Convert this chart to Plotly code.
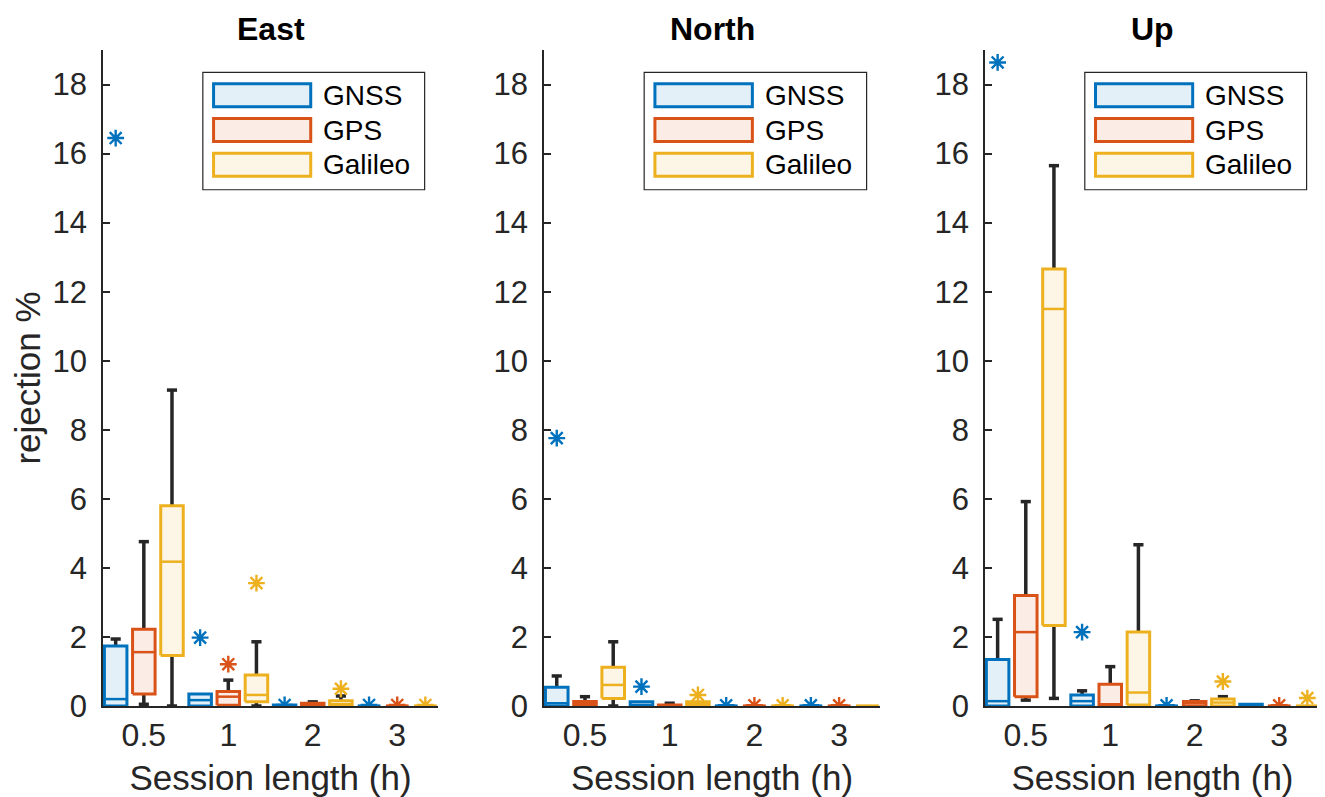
import plotly.graph_objects as go

# ---------------- data ----------------
categories = ["0.5", "1", "2", "3"]
series_names = ["GNSS", "GPS", "Galileo"]
panel_titles = ["East", "North", "Up"]
y_tick_values = [0, 2, 4, 6, 8, 10, 12, 14, 16, 18]

# each list: [GNSS per category], [GPS per category], [Galileo per category]
east_q1 = [[0.0, 0.0, 0.0, 0.0], [0.35, 0.02, 0.0, 0.0], [1.46, 0.12, 0.0, 0.0]]
east_median = [[0.2, 0.17, 0.0, 0.0], [1.56, 0.27, 0.03, 0.0], [4.18, 0.32, 0.05, 0.0]]
east_q3 = [[1.74, 0.35, 0.03, 0.02], [2.22, 0.42, 0.08, 0.0], [5.80, 0.90, 0.15, 0.0]]
east_lower = [[0.0, 0.0, 0.0, 0.0], [0.05, 0.0, 0.0, 0.0], [0.0, 0.0, 0.0, 0.0]]
east_upper = [[1.94, 0.35, 0.03, 0.02], [4.76, 0.75, 0.12, 0.0], [9.15, 1.86, 0.29, 0.0]]
east_outliers = [[[16.45], [1.98], [0.03], [0.03]],
                 [[], [1.21], [], [0.03]],
                 [[], [3.56], [0.50], [0.03]]]

north_q1 = [[0.0, 0.0, 0.0, 0.0], [0.0, 0.0, 0.0, 0.0], [0.22, 0.0, 0.0, 0.0]]
north_median = [[0.08, 0.03, 0.0, 0.0], [0.05, 0.0, 0.0, 0.0], [0.61, 0.05, 0.0, 0.0]]
north_q3 = [[0.54, 0.12, 0.02, 0.02], [0.13, 0.03, 0.0, 0.0], [1.12, 0.12, 0.0, 0.0]]
north_lower = [[0.0, 0.0, 0.0, 0.0], [0.0, 0.0, 0.0, 0.0], [0.0, 0.0, 0.0, 0.0]]
north_upper = [[0.87, 0.12, 0.02, 0.02], [0.27, 0.08, 0.0, 0.0], [1.86, 0.12, 0.0, 0.0]]
north_outliers = [[[7.76], [0.56], [0.02], [0.02]],
                  [[], [], [0.02], [0.02]],
                  [[], [0.32], [0.02], []]]

up_q1 = [[0.0, 0.0, 0.0, 0.0], [0.27, 0.0, 0.0, 0.0], [2.33, 0.03, 0.0, 0.0]]
up_median = [[0.14, 0.14, 0.0, 0.02], [2.14, 0.05, 0.08, 0.0], [11.50, 0.39, 0.10, 0.0]]
up_q3 = [[1.35, 0.32, 0.02, 0.05], [3.20, 0.63, 0.13, 0.0], [12.66, 2.14, 0.20, 0.0]]
up_lower = [[0.0, 0.0, 0.0, 0.0], [0.17, 0.0, 0.0, 0.0], [0.22, 0.0, 0.0, 0.0]]
up_upper = [[2.51, 0.44, 0.02, 0.05], [5.92, 1.14, 0.15, 0.0], [15.65, 4.67, 0.27, 0.0]]
up_outliers = [[[18.64], [2.14], [0.02], []],
               [[], [], [], [0.02]],
               [[], [], [0.71], [0.23]]]

# ---------------- style ----------------
colors = ["#0072BD", "#D95319", "#EDB120"]
fills = ["rgba(0,114,189,0.11)", "rgba(217,83,25,0.11)", "rgba(237,177,32,0.11)"]
axis_color = "#262626"
FONT = "Liberation Sans, Arial, Helvetica, sans-serif"
BOX_W = 0.8
CAP_W = 0.36

panels = [
    (east_q1, east_median, east_q3, east_lower, east_upper, east_outliers),
    (north_q1, north_median, north_q3, north_lower, north_upper, north_outliers),
    (up_q1, up_median, up_q3, up_lower, up_upper, up_outliers),
]

fig = go.Figure()
n_series = len(series_names)

for p, (q1s, meds, q3s, los, his, outs) in enumerate(panels):
    xa = "x" if p == 0 else f"x{p+1}"
    ya = "y" if p == 0 else f"y{p+1}"
    # whiskers (black) drawn first
    wx, wy = [], []
    for s in range(n_series):
        for c in range(len(categories)):
            pos = c * n_series + s + 1
            if his[s][c] > q3s[s][c]:
                wx += [pos, pos, None, pos - CAP_W / 2, pos + CAP_W / 2, None]
                wy += [q3s[s][c], his[s][c], None, his[s][c], his[s][c], None]
            if los[s][c] < q1s[s][c]:
                wx += [pos, pos, None, pos - CAP_W / 2, pos + CAP_W / 2, None]
                wy += [q1s[s][c], los[s][c], None, los[s][c], los[s][c], None]
    fig.add_trace(go.Scatter(x=wx, y=wy, mode="lines", xaxis=xa, yaxis=ya,
                             line=dict(color=axis_color, width=3.5),
                             showlegend=False, hoverinfo="skip"))
    for s in range(n_series):
        bx, by, mx, my, ox, oy = [], [], [], [], [], []
        for c in range(len(categories)):
            pos = c * n_series + s + 1
            l, r = pos - BOX_W / 2, pos + BOX_W / 2
            bx += [l, r, r, l, l, None]
            by += [q1s[s][c], q1s[s][c], q3s[s][c], q3s[s][c], q1s[s][c], None]
            mx += [l, r, None]
            my += [meds[s][c], meds[s][c], None]
            for v in outs[s][c]:
                ox.append(pos)
                oy.append(v)
        fig.add_trace(go.Scatter(x=bx, y=by, mode="lines", fill="toself",
                                 fillcolor=fills[s], xaxis=xa, yaxis=ya,
                                 line=dict(color=colors[s], width=3),
                                 name=series_names[s], showlegend=False))
        fig.add_trace(go.Scatter(x=mx, y=my, mode="lines", xaxis=xa, yaxis=ya,
                                 line=dict(color=colors[s], width=2.5),
                                 showlegend=False, hoverinfo="skip"))
        fig.add_trace(go.Scatter(x=ox, y=oy, mode="markers", xaxis=xa, yaxis=ya,
                                 marker=dict(symbol="asterisk-open", size=14, color=colors[s],
                                             line=dict(color=colors[s], width=2.4)),
                                 showlegend=False))

# ---------------- layout ----------------
domains = [[0.0, 0.2753], [0.3624, 0.6385], [0.7247, 1.0]]
tick_positions = [c * n_series + 2 for c in range(len(categories))]
TOP_MARGIN = 42
PLOT_H = 656
layout = dict(
    width=1317, height=789,
    margin=dict(l=95, r=5, t=TOP_MARGIN, b=91),
    paper_bgcolor="white", plot_bgcolor="white",
    font=dict(family=FONT, color="#262626"),
    showlegend=False,
)
shapes, annotations = [], []
for p in range(3):
    sfx = "" if p == 0 else str(p + 1)
    layout["xaxis" + sfx] = dict(
        domain=domains[p], range=[0.55, 12.45], anchor="y" + sfx,
        tickvals=tick_positions, ticktext=categories, ticks="",
        showline=True, linecolor=axis_color, linewidth=1.5,
        showgrid=False, zeroline=False,
        tickfont=dict(size=32, family=FONT, color="#262626"),
        title=dict(text="Session length (h)", font=dict(size=35, family=FONT, color="#262626"), standoff=14),
    )
    layout["yaxis" + sfx] = dict(
        domain=[0, 1], range=[0, 19], anchor="x" + sfx,
        tickvals=y_tick_values, ticks="inside", ticklen=7, tickwidth=1.5, tickcolor=axis_color,
        showline=True, linecolor=axis_color, linewidth=1.5,
        showgrid=False, zeroline=False, ticklabelstandoff=8,
        tickfont=dict(size=31, family=FONT, color="#262626"),
    )
    if p == 0:
        layout["yaxis"]["title"] = dict(text="rejection %", font=dict(size=35, family=FONT, color="#262626"), standoff=10)
    # panel title, anchored at the top edge of the figure so it is never clipped
    annotations.append(dict(text="<b>" + panel_titles[p] + "</b>", xref="x" + sfx + " domain", x=0.5,
                            yref="paper", y=1 + (TOP_MARGIN - 1) / PLOT_H, xanchor="center", yanchor="top",
                            showarrow=False, font=dict(size=32, family=FONT, color="black")))
    # legend box
    xr, yr = "x" + sfx + " domain", "y" + sfx + " domain"
    shapes.append(dict(type="rect", xref=xr, yref=yr, x0=0.298, x1=0.96, y0=0.787, y1=0.966,
                       line=dict(color=axis_color, width=1.2), fillcolor="white", layer="above"))
    row_centers = [0.931, 0.878, 0.825]
    for s in range(n_series):
        yc = row_centers[s]
        shapes.append(dict(type="rect", xref=xr, yref=yr, x0=0.33, x1=0.62,
                           y0=yc - 0.0175, y1=yc + 0.0175,
                           line=dict(color=colors[s], width=3), fillcolor=fills[s], layer="above"))
        annotations.append(dict(text=series_names[s], xref=xr, yref=yr, x=0.652, y=yc,
                                xanchor="left", yanchor="middle", showarrow=False,
                                font=dict(size=28, family=FONT, color="black")))

layout["shapes"] = shapes
layout["annotations"] = annotations
fig.update_layout(**layout)
fig.write_html("out.html")
